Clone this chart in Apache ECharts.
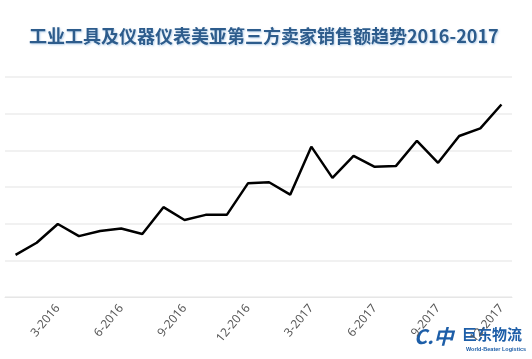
<!DOCTYPE html>
<html>
<head>
<meta charset="utf-8">
<script src="https://cdn.jsdelivr.net/npm/echarts@6/dist/echarts.min.js"></script>
<style>html,body{margin:0;padding:0;background:#fff}#c{width:532px;height:359px}</style>
</head>
<body>
<div id="c"></div>
<script>
const titleText = '工业工具及仪器仪表美亚第三方卖家销售额趋势2016-2017';
const months = ['1-2016','2-2016','3-2016','4-2016','5-2016','6-2016','7-2016','8-2016','9-2016','10-2016','11-2016','12-2016',
                '1-2017','2-2017','3-2017','4-2017','5-2017','6-2017','7-2017','8-2017','9-2017','10-2017','11-2017','12-2017'];
const sales = [1.15,1.48,1.99,1.66,1.80,1.87,1.72,2.45,2.10,2.24,2.24,3.10,
               3.13,2.79,4.10,3.25,3.85,3.55,3.57,4.26,3.66,4.39,4.60,5.25];
const yMax = 6;
const yStep = 1;

const chart = echarts.init(document.getElementById('c'), null, {renderer:'canvas'});
chart.setOption({
  backgroundColor:'#ffffff',
  animation:false,
  title:{
    text:titleText,
    left:24,
    top:22,
    textStyle:{fontFamily:'"Noto Sans CJK SC", sans-serif',fontSize:18,fontWeight:'bold',color:'#2d5c8c',
      textShadowColor:'rgba(120,170,220,0.5)',textShadowBlur:2,textShadowOffsetX:1,textShadowOffsetY:1}
  },
  grid:{left:5,right:20,top:77,bottom:62,containLabel:false},
  xAxis:{
    type:'category',
    data:months,
    boundaryGap:true,
    axisLine:{show:true,lineStyle:{color:'#e6e6e6',width:1}},
    axisTick:{show:false},
    axisLabel:{
      rotate:50,
      interval:function(i){return i%3===2;},
      margin:9,
      fontSize:12,
      color:'#595959',
      fontFamily:'"Noto Sans", sans-serif'
    }
  },
  yAxis:{
    type:'value',
    min:0,max:yMax,interval:yStep,
    axisLabel:{show:false},
    axisLine:{show:false},
    axisTick:{show:false},
    splitLine:{lineStyle:{color:'#ececec',width:1.5}}
  },
  series:[{
    type:'line',
    data:sales,
    symbol:'none',
    lineStyle:{color:'#000000',width:2.5},
    itemStyle:{color:'#000'}
  }],
  graphic:[
    {type:'text',left:462,top:327,style:{text:'巨东物流',fontSize:15,fontWeight:'bold',fill:'#1d5ea8',fontFamily:'"Noto Sans CJK SC", sans-serif'}},
    {type:'text',left:466,top:346,style:{text:'World-Beater Logistics',fontSize:5.5,fontWeight:'bold',fill:'#1d5ea8',fontFamily:'"Liberation Sans", sans-serif'}},
    {type:'text',left:414,top:326,style:{text:'C.中',fontSize:20,fontStyle:'italic',fontWeight:'bold',fill:'#1d5ea8',fontFamily:'"Noto Sans CJK SC", sans-serif'}}
  ]
});
</script>
</body>
</html>
